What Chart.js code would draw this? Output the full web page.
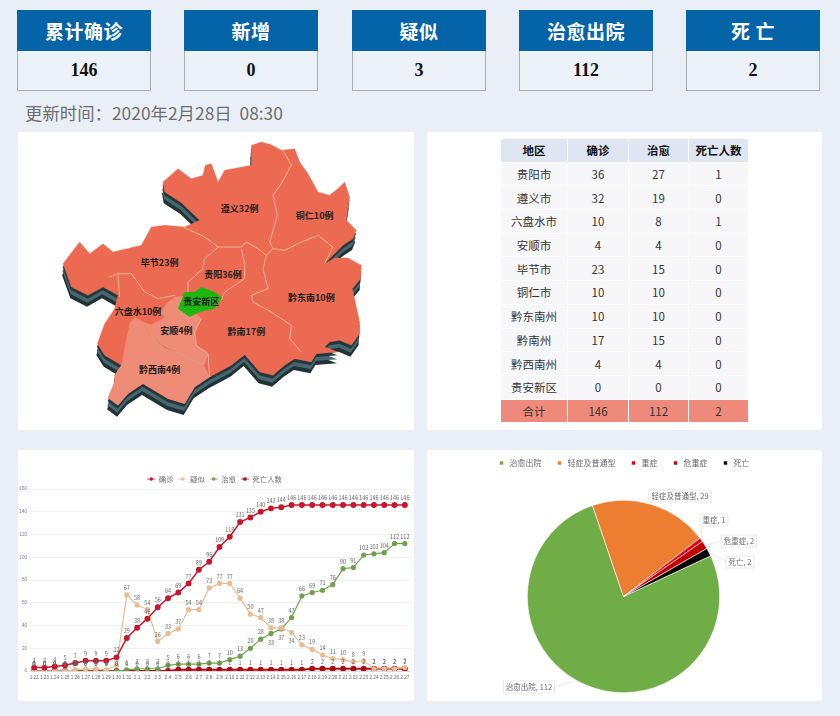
<!DOCTYPE html>
<html lang="zh">
<head>
<meta charset="utf-8">
<title>贵州疫情</title>
<script src="https://cdn.jsdelivr.net/npm/chart.js@4"></script>
<style>
html, body { margin: 0; padding: 0; }
body { width: 840px; height: 716px; position: relative; overflow: hidden; background: #eaeff7; font-family: "Noto Sans CJK SC", sans-serif; }
.card { position: absolute; top: 10px; width: 134px; height: 81px; box-sizing: border-box; border: 1px solid #a9adb5; border-top: 0; background: #edf1f8; text-align: center; }
.card .head { height: 41px; margin: 0 -1px; background: #0563a8; color: #fff; font-size: 19px; font-weight: 700; line-height: 41px; letter-spacing: 0.5px; }
.card .num { font: 700 18px/39px "Liberation Serif", serif; color: #111; }
#updated { position: absolute; left: 25px; top: 101px; font-size: 17.4px; line-height: 24px; color: #6e6e6e; white-space: nowrap; }
.panel { position: absolute; background: #fff; width: 396px; }
#mapPanel { left: 18px; top: 132px; height: 298px; }
#tablePanel { left: 427px; top: 132px; height: 298px; width: 395px; }
#linePanel { left: 18px; top: 450px; height: 251px; }
#piePanel { left: 427px; top: 450px; height: 251px; width: 395px; }
#mapPanel svg { display: block; }
#mapPanel text { font: 700 27px "Noto Sans CJK SC", sans-serif; fill: #1d1d1d; text-anchor: middle; dominant-baseline: central; }
table { position: absolute; left: 73px; top: 7px; border-collapse: separate; border-spacing: 1px 0; table-layout: fixed; width: 248px; }
td, th { height: 23.7px; padding: 0; text-align: center; font-size: 11.5px; font-weight: 400; color: #333; background: #f7f7f9; border-bottom: 1px solid #fff; box-sizing: border-box; }
th { background: #dfe6f2; font-weight: 700; color: #111; }
tr:last-child td { background: #ee8a7b; }
canvas { position: absolute; left: 0; top: 0; }
</style>
</head>
<body>

<div id="cards"></div>
<div id="updated">更新时间：2020年2月28日&nbsp; 08:30</div>

<div class="panel" id="mapPanel">
<svg width="396" height="298" viewBox="0 0 1188 894">
  <defs>
    <path id="gz" d="M700 40 L730 30 L760 38 L790 55 L830 50 L845 90 L870 125 L900 180 L935 190 L965 165 L980 150 L995 195 L985 265 L1015 295 L1005 320 L975 340 L950 365 L920 395 L950 378 L990 378 L1030 400 L1028 440 L1003 470 L1025 570 L1025 605 L1000 640 L965 625 L935 630 L920 645 L960 660 L895 665 L880 690 L830 680 L800 700 L765 730 L725 720 L680 668 L640 700 L575 735 L530 765 L500 815 L450 800 L375 755 L330 785 L300 820 L270 798 L290 750 L290 730 L310 700 L260 670 L238 635 L260 575 L290 530 L300 490 L255 465 L210 490 L160 465 L135 395 L185 330 L215 365 L255 335 L285 360 L370 340 L400 285 L440 280 L500 285 L545 265 L490 212 L440 180 L435 150 L480 110 L520 140 L555 130 L562 100 L580 95 L600 150 L620 115 L700 100 Z"/>
  </defs>
  <use href="#gz" transform="translate(-3 34)" fill="#1f3236"/>
  <use href="#gz" transform="translate(-2 22)" fill="#48666e"/>
  <use href="#gz" transform="translate(-1 10)" fill="#22383d"/>
  <use href="#gz" fill="#ec6a52" stroke="#ec6a52"/>
  <!-- 安顺 -->
  <path d="M470 495 L510 490 L520 530 L550 560 L530 600 L535 640 L570 665 L560 700 L520 685 L490 665 L440 645 L395 610 L375 570 L400 578 L442 555 L425 545 L445 515 Z" fill="#ee8c78"/>
  <!-- 黔西南 -->
  <path d="M350 555 L375 570 L395 610 L440 650 L490 665 L520 685 L555 695 L575 735 L530 765 L500 815 L450 800 L375 755 L330 785 L300 820 L270 798 L290 750 L290 730 L310 700 L325 620 L335 575 Z" fill="#ee8c78"/>
  <g fill="none" stroke="#e8b493" stroke-width="3">
    <path d="M795 55 L820 100 L790 155 L765 190 L778 250 L755 330 L765 350 L800 355 L850 330 L900 310 L945 345 L920 395"/>
    <path d="M495 285 L560 315 L600 345 L670 345 L685 330 L720 350 L745 370 L765 350"/>
    <path d="M600 345 L560 380 L555 410 L510 450 L510 480"/>
    <path d="M670 350 L680 395 L680 440 L620 480 L610 505"/>
    <path d="M745 370 L735 410 L750 470 L700 490 L705 510 L760 540 L820 580 L815 620 L850 660"/>
    <path d="M275 435 L300 425 L340 425 L380 480 L420 500 L470 490"/>
    <path d="M300 430 L305 495"/>
    <path d="M395 610 L440 650 L490 665 L520 685 L555 695" stroke="#dc9f88"/>
    <path d="M550 560 L530 600 L535 640 L570 665 L575 735" stroke="#e8b493"/>
  </g>
  <path d="M550 465 L590 480 L612 497 L590 530 L545 540 L515 555 L480 530 L500 480 L530 480 Z" fill="#1cb80f"/>
  <text x="665" y="228">遵义32例</text>
  <text x="890" y="250">铜仁10例</text>
  <text x="425" y="392">毕节23例</text>
  <text x="615" y="427">贵阳36例</text>
  <text x="550" y="508">贵安新区</text>
  <text x="880" y="497">黔东南10例</text>
  <text x="360" y="537">六盘水10例</text>
  <text x="475" y="596">安顺4例</text>
  <text x="685" y="597">黔南17例</text>
  <text x="425" y="712">黔西南4例</text>
</svg>
</div>

<div class="panel" id="tablePanel"><table id="tbl"></table></div>
<div class="panel" id="linePanel"><canvas id="lineChart"></canvas></div>
<div class="panel" id="piePanel"><canvas id="pieChart"></canvas></div>

<script>
// summary cards
const cardTitles = ['累计确诊', '新增', '疑似', '治愈出院', '死 亡'];
const cardValues = [146, 0, 3, 112, 2];
const cardLefts = [17, 184, 352, 519, 686];

// table by region
const tableHead = ['地区', '确诊', '治愈', '死亡人数'];
const regions = ['贵阳市', '遵义市', '六盘水市', '安顺市', '毕节市', '铜仁市', '黔东南州', '黔南州', '黔西南州', '贵安新区', '合计'];
const regionConfirmed = [36, 32, 10, 4, 23, 10, 10, 17, 4, 0, 146];
const regionCured = [27, 19, 8, 4, 15, 10, 10, 15, 4, 0, 112];
const regionDead = [1, 0, 1, 0, 0, 0, 0, 0, 0, 0, 2];

// daily trend
const days = ['1.22','1.23','1.24','1.25','1.26','1.27','1.28','1.29','1.30','1.31','2.1','2.2','2.3','2.4','2.5','2.6','2.7','2.8','2.9','2.10','2.11','2.12','2.13','2.14','2.15','2.16','2.17','2.18','2.19','2.20','2.21','2.22','2.23','2.24','2.25','2.26','2.27'];
const confirmed = [3,3,4,5,7,9,9,9,12,29,38,46,56,64,69,77,89,96,109,118,131,135,140,143,144,146,146,146,146,146,146,146,146,146,146,146,146];
const suspected = [0,0,0,0,1,2,2,1,5,67,58,54,26,33,37,54,54,73,77,77,64,50,47,38,38,34,23,19,14,11,10,8,9,2,2,2,3];
const cured = [0,0,0,0,0,0,0,0,0,1,2,2,2,5,6,6,6,7,7,10,13,20,28,33,37,47,66,69,71,76,90,91,102,103,104,112,112];
const dead = [0,0,0,0,0,0,0,0,0,0,0,0,0,0,1,1,1,1,1,1,1,1,1,1,1,1,1,2,2,2,2,2,2,2,2,2,2];

// pie
const pieNames = ['治愈出院', '轻症及普通型', '重症', '危重症', '死亡'];
const pieValues = [112, 29, 1, 2, 2];
const pieColors = ['#70ad47', '#ed7d31', '#e60012', '#c00000', '#000000'];

document.getElementById('cards').innerHTML = cardTitles.map((t, i) =>
  `<div class="card" style="left:${cardLefts[i]}px"><div class="head">${t}</div><div class="num">${cardValues[i]}</div></div>`).join('');

document.getElementById('tbl').innerHTML =
  '<colgroup><col style="width:66px"><col style="width:60px"><col style="width:59px"><col style="width:59px"></colgroup>' +
  '<tr>' + tableHead.map(h => `<th>${h}</th>`).join('') + '</tr>' +
  regions.map((r, i) => `<tr><td>${r}</td><td>${regionConfirmed[i]}</td><td>${regionCured[i]}</td><td>${regionDead[i]}</td></tr>`).join('');

// legend icon: short line with a dot, like the office chart
function legendIcon(color) {
  const c = document.createElement('canvas');
  c.width = 40; c.height = 20;
  const x = c.getContext('2d');
  x.fillStyle = color;
  x.fillRect(0, 8, 40, 4);
  x.beginPath(); x.arc(20, 10, 9, 0, 7); x.fill();
  const out = new Image();
  out.src = c.toDataURL();
  out.width = 8; out.height = 4;
  return out;
}

// legend sits apart from the plot
function legendGap(extra) {
  return {
    id: 'legendGap',
    beforeInit(chart) {
      const fit = chart.legend.fit;
      chart.legend.fit = function () {
        fit.call(this);
        this.height += extra;
      };
    }
  };
}

// value labels on the trend lines; a few sit under the point
const labelsBelow = { 1: [25], 2: [23, 24] };
const valueLabels = {
  id: 'valueLabels',
  afterDatasetsDraw(chart) {
    const ctx = chart.ctx;
    ctx.save();
    ctx.font = '5.5px "Noto Sans CJK SC", sans-serif';
    ctx.fillStyle = '#666';
    ctx.textAlign = 'center';
    ctx.textBaseline = 'middle';
    chart.data.datasets.forEach((ds, i) => {
      chart.getDatasetMeta(i).data.forEach((pt, j) => {
        const below = (labelsBelow[i] || []).includes(j);
        ctx.fillText(ds.data[j], pt.x, pt.y + (below ? 9 : -7));
      });
    });
    ctx.restore();
  }
};

const lineSeries = [
  { label: '确诊', data: confirmed, color: '#c8162c', width: 1.5, r: 2.2 },
  { label: '疑似', data: suspected, color: '#e8bd93', width: 1.2, r: 2 },
  { label: '治愈', data: cured, color: '#6fa04f', width: 1.2, r: 2 },
  { label: '死亡人数', data: dead, color: '#ae0a14', width: 2, r: 2 }
];
const icons = lineSeries.map(s => legendIcon(s.color));

function drawLine() {
  new Chart(document.getElementById('lineChart'), {
    type: 'line',
    plugins: [valueLabels, legendGap(-3.7)],
    data: {
      labels: days,
      datasets: lineSeries.map(s => ({
        label: s.label, data: s.data, borderColor: s.color, backgroundColor: s.color,
        borderWidth: s.width, pointRadius: s.r, pointHoverRadius: s.r, tension: 0
      }))
    },
    options: {
      responsive: false,
      animation: false,
      layout: { padding: { top: 20.4, right: 3, left: 0, bottom: 0 } },
      plugins: {
        tooltip: { enabled: false },
        legend: {
          position: 'top',
          labels: {
            usePointStyle: true,
            pointStyleWidth: 8,
            boxHeight: 7,
            padding: 5,
            color: '#666',
            font: { size: 7.3, family: '"Noto Sans CJK SC", sans-serif' },
            generateLabels: chart => chart.data.datasets.map((d, i) => ({
              text: d.label, fontColor: '#666', pointStyle: icons[i], datasetIndex: i, lineWidth: 0, strokeStyle: 'transparent', fillStyle: d.borderColor
            }))
          }
        }
      },
      scales: {
        x: {
          offset: true,
          afterFit(s) { s.height = 30; },
          grid: { display: false, drawTicks: false, tickLength: 0 },
          border: { color: '#d9d9d9' },
          ticks: { autoSkip: false, maxRotation: 0, minRotation: 0, padding: 4, color: '#666', font: { size: 4.6 } }
        },
        y: {
          min: 0, max: 160,
          afterFit(s) { s.width = 11; },
          grid: { color: '#ebebeb', lineWidth: 0.7, drawTicks: false },
          border: { display: false },
          ticks: { stepSize: 20, padding: 2, color: '#777', font: { size: 4.6 } }
        }
      }
    }
  });
}

// callouts for the pie: box centre relative to the panel, set by hand like the original
const pieLabelSpots = [[102, 237], [253, 46], [287, 70], [312, 91], [313, 112]];
const pieLabels = {
  id: 'pieLabels',
  afterDatasetsDraw(chart) {
    const ctx = chart.ctx;
    const arcs = chart.getDatasetMeta(0).data;
    ctx.save();
    ctx.font = '7.5px "Noto Sans CJK SC", sans-serif';
    ctx.textAlign = 'center';
    ctx.textBaseline = 'middle';
    arcs.forEach((a, i) => {
      const text = pieNames[i] + ', ' + pieValues[i];
      const w = ctx.measureText(text).width + 5, h = 12;
      const [bx, by] = pieLabelSpots[i];
      const mid = (a.startAngle + a.endAngle) / 2;
      let ax = a.x + Math.cos(mid) * a.outerRadius, ay = a.y + Math.sin(mid) * a.outerRadius;
      if (i === 0) { ax = a.x - 50; ay = a.y + a.outerRadius * 0.88; }
      ctx.strokeStyle = '#d9d9d9';
      ctx.lineWidth = 0.6;
      ctx.beginPath();
      ctx.moveTo(ax, ay);
      ctx.lineTo(i === 0 ? bx + w / 2 : bx - w / 2 + 2, by + (i === 1 ? 6 : 0));
      ctx.stroke();
      ctx.fillStyle = '#fff';
      ctx.fillRect(bx - w / 2, by - h / 2, w, h);
      ctx.strokeRect(bx - w / 2, by - h / 2, w, h);
      ctx.fillStyle = '#666';
      ctx.fillText(text, bx, by);
    });
    ctx.restore();
  }
};

function drawPie() {
  new Chart(document.getElementById('pieChart'), {
    type: 'pie',
    plugins: [pieLabels, legendGap(23)],
    data: {
      labels: pieNames,
      datasets: [{ data: pieValues, backgroundColor: pieColors, borderColor: '#fff', borderWidth: 0.6 }]
    },
    options: {
      responsive: false,
      animation: false,
      rotation: 65,
      layout: { padding: { top: -5, bottom: 8, right: 2 } },
      plugins: {
        tooltip: { enabled: false },
        legend: {
          position: 'top',
          labels: {
            usePointStyle: true, pointStyle: 'rect', boxHeight: 4, padding: 14,
            color: '#666',
            font: { size: 8, family: '"Noto Sans CJK SC", sans-serif' }
          }
        }
      }
    }
  });
}

document.getElementById('lineChart').width = 396;
document.getElementById('lineChart').height = 251;
document.getElementById('pieChart').width = 395;
document.getElementById('pieChart').height = 251;

Promise.all(icons.map(im => im.complete ? 0 : new Promise(r => { im.onload = r; }))).then(() => {
  drawLine();
  drawPie();
});
</script>
</body>
</html>
